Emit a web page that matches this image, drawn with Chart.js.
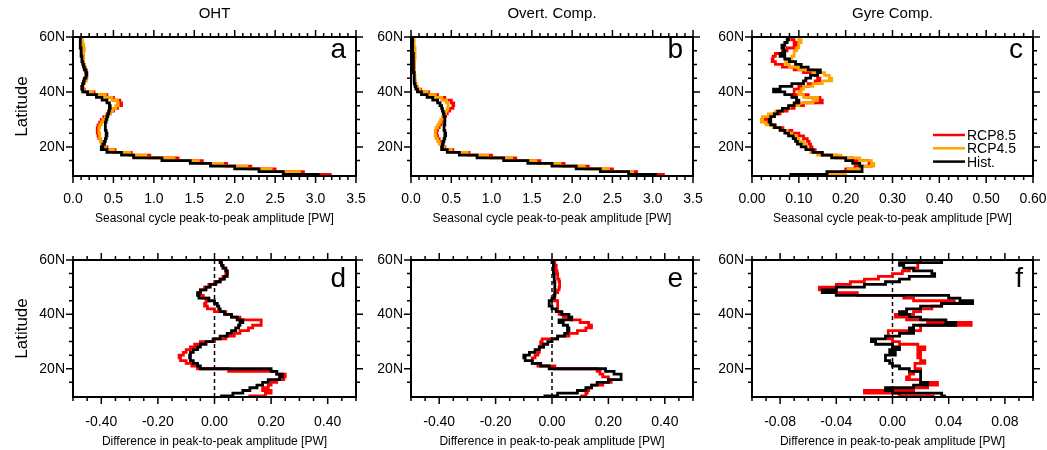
<!DOCTYPE html>
<html>
<head>
<meta charset="utf-8">
<script src="https://cdn.jsdelivr.net/npm/chart.js@4/dist/chart.umd.min.js"></script>
<style>
  body { margin: 0; background: #fff; width: 1047px; height: 450px; position: relative; overflow: hidden; }
  canvas { position: absolute; }
</style>
</head>
<body>
<canvas id="pa"></canvas><canvas id="pb"></canvas><canvas id="pc"></canvas>
<canvas id="pd"></canvas><canvas id="pe"></canvas><canvas id="pf"></canvas>
<script>
/* global Chart */
// latitude rows (deg N), bottom to top
const lats = [10, 11, 12, 13, 14, 15, 16, 17, 18, 19, 20, 21, 22, 23, 24, 25, 26, 27, 28, 29,
  30, 31, 32, 33, 34, 35, 36, 37, 38, 39, 40, 41, 42, 43, 44, 45, 46, 47, 48, 49,
  50, 51, 52, 53, 54, 55, 56, 57, 58, 59, 60];
const latTicks = [20, 40, 60];
const seriesNames = ["RCP8.5", "RCP4.5", "Hist."];
const columnTitles = ["OHT", "Overt. Comp.", "Gyre Comp."];

// a: OHT amplitude [PW]
const ohtRcp85 = [3.2, 2.85, 2.5, 2.2, 1.9, 1.6, 1.3, 0.95, 0.72, 0.52,
  0.42, 0.38, 0.36, 0.34, 0.32, 0.31, 0.30, 0.30, 0.31, 0.33,
  0.35, 0.38, 0.42, 0.46, 0.50, 0.55, 0.60, 0.58, 0.50, 0.42,
  0.26, 0.14, 0.11, 0.12, 0.14, 0.16, 0.17, 0.17, 0.16, 0.15,
  0.14, 0.13, 0.12, 0.12, 0.12, 0.12, 0.13, 0.13, 0.12, 0.11, 0.10];
const ohtRcp45 = [2.9, 2.8, 2.45, 2.15, 1.85, 1.55, 1.25, 0.9, 0.7, 0.5,
  0.40, 0.37, 0.35, 0.34, 0.33, 0.33, 0.32, 0.32, 0.33, 0.35,
  0.37, 0.40, 0.43, 0.46, 0.49, 0.53, 0.56, 0.55, 0.48, 0.40,
  0.24, 0.13, 0.11, 0.12, 0.14, 0.16, 0.17, 0.17, 0.16, 0.15,
  0.14, 0.13, 0.13, 0.13, 0.13, 0.13, 0.14, 0.13, 0.12, 0.11, 0.10];
const ohtHist = [3.05, 2.6, 2.3, 2.0, 1.7, 1.45, 1.1, 0.75, 0.6, 0.42,
  0.35, 0.37, 0.39, 0.40, 0.41, 0.42, 0.41, 0.40, 0.40, 0.40,
  0.41, 0.42, 0.43, 0.44, 0.45, 0.46, 0.45, 0.42, 0.36, 0.29,
  0.18, 0.12, 0.11, 0.12, 0.13, 0.14, 0.16, 0.17, 0.16, 0.14,
  0.13, 0.12, 0.11, 0.11, 0.10, 0.10, 0.10, 0.09, 0.09, 0.09, 0.09];

// b: overturning component
const ovRcp85 = [3.15, 2.8, 2.5, 2.2, 1.9, 1.6, 1.3, 1.0, 0.72, 0.52,
  0.42, 0.39, 0.37, 0.35, 0.33, 0.32, 0.32, 0.33, 0.35, 0.37,
  0.39, 0.41, 0.43, 0.45, 0.48, 0.52, 0.53, 0.50, 0.42, 0.33,
  0.22, 0.12, 0.08, 0.06, 0.05, 0.04, 0.04, 0.04, 0.04, 0.04,
  0.04, 0.04, 0.04, 0.04, 0.04, 0.04, 0.04, 0.03, 0.03, 0.03, 0.03];
const ovRcp45 = [2.95, 2.75, 2.45, 2.15, 1.85, 1.55, 1.25, 0.95, 0.7, 0.5,
  0.41, 0.38, 0.35, 0.33, 0.31, 0.30, 0.30, 0.31, 0.33, 0.35,
  0.37, 0.39, 0.41, 0.43, 0.45, 0.46, 0.46, 0.44, 0.38, 0.30,
  0.20, 0.11, 0.08, 0.06, 0.05, 0.05, 0.05, 0.04, 0.04, 0.04,
  0.04, 0.04, 0.04, 0.05, 0.05, 0.05, 0.05, 0.04, 0.04, 0.04, 0.03];
const ovHist = [3.05, 2.7, 2.35, 2.05, 1.75, 1.45, 1.15, 0.82, 0.6, 0.45,
  0.38, 0.39, 0.40, 0.41, 0.42, 0.43, 0.42, 0.41, 0.41, 0.42,
  0.42, 0.42, 0.41, 0.40, 0.39, 0.38, 0.36, 0.33, 0.27, 0.20,
  0.13, 0.08, 0.06, 0.05, 0.04, 0.04, 0.04, 0.04, 0.03, 0.03,
  0.03, 0.03, 0.03, 0.03, 0.03, 0.02, 0.02, 0.02, 0.02, 0.02, 0.02];

// c: gyre component
const gyRcp85 = [0.10, 0.19, 0.20, 0.22, 0.255, 0.25, 0.215, 0.18, 0.15, 0.135,
  0.128, 0.125, 0.122, 0.118, 0.11, 0.10, 0.085, 0.066, 0.05, 0.04,
  0.028, 0.035, 0.045, 0.06, 0.075, 0.09, 0.11, 0.15, 0.145, 0.12,
  0.09, 0.09, 0.10, 0.12, 0.135, 0.145, 0.14, 0.135, 0.11, 0.09,
  0.065, 0.05, 0.043, 0.045, 0.05, 0.065, 0.075, 0.09, 0.095, 0.09, 0.085];
const gyRcp45 = [0.12, 0.20, 0.205, 0.23, 0.26, 0.255, 0.23, 0.19, 0.14, 0.125,
  0.118, 0.115, 0.11, 0.10, 0.095, 0.085, 0.075, 0.06, 0.045, 0.03,
  0.02, 0.022, 0.035, 0.05, 0.065, 0.08, 0.10, 0.13, 0.14, 0.11,
  0.10, 0.105, 0.11, 0.13, 0.15, 0.17, 0.165, 0.155, 0.13, 0.10,
  0.08, 0.072, 0.075, 0.085, 0.09, 0.09, 0.095, 0.10, 0.10, 0.105, 0.10];
const gyHist = [0.08, 0.16, 0.235, 0.235, 0.23, 0.215, 0.20, 0.17, 0.15, 0.13,
  0.115, 0.105, 0.097, 0.093, 0.088, 0.078, 0.07, 0.06, 0.048, 0.04,
  0.037, 0.04, 0.048, 0.055, 0.065, 0.078, 0.09, 0.10, 0.095, 0.085,
  0.07, 0.046, 0.06, 0.085, 0.11, 0.115, 0.125, 0.14, 0.146, 0.12,
  0.105, 0.093, 0.08, 0.07, 0.06, 0.07, 0.068, 0.064, 0.07, 0.075, 0.078];

// d-f: difference in amplitude [PW]
const dOhtRcp85 = [0.12, 0.18, 0.20, 0.17, 0.19, 0.20, 0.22, 0.245, 0.25, 0.22,
  0.05, -0.06, -0.08, -0.10, -0.12, -0.125, -0.11, -0.10, -0.085, -0.07,
  -0.05, 0.0, 0.04, 0.07, 0.09, 0.12, 0.135, 0.165, 0.165, 0.09,
  0.06, 0.04, 0.0, -0.025, -0.035, -0.03, -0.02, -0.04, -0.055, -0.05,
  -0.035, -0.02, 0.0, 0.02, 0.03, 0.04, 0.045, 0.04, 0.03, 0.025, 0.02];
const dOhtHist = [0.02, 0.065, 0.10, 0.125, 0.15, 0.17, 0.19, 0.23, 0.24, 0.22,
  0.20, -0.05, -0.06, -0.075, -0.085, -0.088, -0.085, -0.075, -0.06, -0.05,
  -0.03, -0.005, 0.02, 0.045, 0.06, 0.075, 0.085, 0.09, 0.10, 0.08,
  0.06, 0.035, 0.02, 0.015, 0.01, 0.0, -0.02, -0.055, -0.06, -0.05,
  -0.03, -0.015, 0.005, 0.02, 0.035, 0.045, 0.045, 0.04, 0.03, 0.025, 0.02];
const dOvRcp85 = [0.10, 0.12, 0.125, 0.13, 0.14, 0.18, 0.21, 0.20, 0.18, 0.17,
  0.16, 0.01, -0.05, -0.07, -0.07, -0.06, -0.05, -0.045, -0.045, -0.03,
  -0.04, -0.035, 0.02, 0.06, 0.09, 0.12, 0.14, 0.13, 0.10, 0.07,
  0.04, 0.025, 0.02, 0.02, 0.02, 0.02, 0.01, 0.005, 0.01, 0.02,
  0.025, 0.027, 0.027, 0.025, 0.02, 0.02, 0.018, 0.015, 0.015, 0.01, 0.005];
const dOvHist = [-0.03, 0.02, 0.09, 0.12, 0.14, 0.16, 0.20, 0.245, 0.245, 0.22,
  0.19, -0.01, -0.04, -0.07, -0.095, -0.10, -0.08, -0.06, -0.045, -0.03,
  -0.015, 0.0, 0.02, 0.045, 0.055, 0.06, 0.055, 0.04, 0.025, 0.07,
  0.06, 0.035, 0.015, 0.0, -0.01, -0.01, 0.0, 0.008, 0.01, 0.01,
  0.01, 0.01, 0.01, 0.008, 0.008, 0.008, 0.005, 0.005, 0.005, 0.005, 0.0];
const dGyRcp85 = [0.03, 0.005, -0.02, 0.015, 0.025, 0.032, 0.02, 0.01, 0.012, 0.015,
  0.02, 0.016, 0.016, 0.023, 0.02, 0.018, 0.02, 0.018, 0.023, 0.018,
  0.005, 0.0, -0.003, -0.003, -0.003, 0.02, 0.02, 0.056, 0.025, 0.01,
  0.002, 0.015, 0.02, 0.028, 0.035, 0.044, 0.015, 0.008, -0.025, -0.04,
  -0.052, -0.04, -0.03, -0.02, -0.01, 0.0, 0.007, 0.012, 0.018, 0.018, 0.02];
const dGyHist = [0.038, 0.035, 0.0, -0.005, 0.015, 0.025, 0.02, 0.02, 0.02, 0.02,
  0.012, 0.005, 0.0, -0.002, -0.005, -0.005, 0.002, -0.002, 0.005, 0.0,
  -0.012, -0.015, -0.005, 0.005, 0.015, 0.012, 0.015, 0.045, 0.038, 0.02,
  0.012, 0.005, 0.01, 0.02, 0.035, 0.057, 0.048, 0.04, -0.04, -0.05,
  -0.04, -0.02, -0.005, 0.005, 0.012, 0.03, 0.028, 0.015, 0.008, 0.005, 0.035];

const RED = "#ff0000", ORANGE = "#ffa500", BLACK = "#000000";
const FONT = "Liberation Sans";
Chart.defaults.font.family = FONT;
Chart.defaults.color = "#000";

const onStep = (v, s) => Math.abs(v / s - Math.round(v / s)) < 1e-6;

// frame, outward ticks on all sides, and the texts around each panel
const panelDecor = {
  id: "panelDecor",
  afterDraw(chart, args, o) {
    const { ctx, chartArea: a, scales: { x, y } } = chart;
    ctx.save();
    ctx.strokeStyle = "#000";
    ctx.lineWidth = 1.5;
    ctx.beginPath();
    x.ticks.forEach((t) => {
      if (!onStep(t.value, o.xMinor)) return;
      const px = x.getPixelForValue(t.value);
      const len = onStep(t.value, o.xMajor) ? 7 : 4;
      ctx.moveTo(px, a.bottom); ctx.lineTo(px, a.bottom + len);
      ctx.moveTo(px, a.top); ctx.lineTo(px, a.top - len);
    });
    y.ticks.forEach((t) => {
      if (!onStep(t.value, 5)) return;
      const py = y.getPixelForValue(t.value);
      const len = latTicks.includes(t.value) ? 7 : 4;
      ctx.moveTo(a.left, py); ctx.lineTo(a.left - len, py);
      ctx.moveTo(a.right, py); ctx.lineTo(a.right + len, py);
    });
    ctx.stroke();
    ctx.lineWidth = 2;
    ctx.strokeRect(a.left, a.top, a.right - a.left, a.bottom - a.top);

    const cxm = (a.left + a.right) / 2;
    ctx.fillStyle = "#000";
    ctx.textBaseline = "alphabetic";
    if (o.title) {
      ctx.font = "15px " + FONT;
      ctx.textAlign = "center";
      ctx.fillText(o.title, cxm, 17.5);
    }
    ctx.font = "28px " + FONT;
    ctx.textAlign = "right";
    ctx.fillText(o.letter, a.right - 10, a.top + o.letterDy);

    ctx.font = "12px " + FONT;
    ctx.textAlign = "center";
    ctx.fillText(o.xTitle, cxm, o.xTitleY);

    if (o.yTitle) {
      ctx.save();
      ctx.translate(22, (a.top + a.bottom) / 2);
      ctx.rotate(-Math.PI / 2);
      ctx.font = "17px " + FONT;
      ctx.textBaseline = "middle";
      ctx.fillText("Latitude", 0, 0);
      ctx.restore();
    }

    if (o.legend) {
      const colors = [RED, ORANGE, BLACK];
      ctx.font = "14px " + FONT;
      ctx.textAlign = "left";
      ctx.lineWidth = 2.5;
      seriesNames.forEach((name, i) => {
        const ly = 135 + i * 13.3;
        ctx.strokeStyle = colors[i];
        ctx.beginPath();
        ctx.moveTo(a.right - 100, ly); ctx.lineTo(a.right - 68, ly);
        ctx.stroke();
        ctx.fillText(name, a.right - 66, ly + 5);
      });
    }
    ctx.restore();
  }
};

const TOP_X = "Seasonal cycle peak-to-peak amplitude [PW]";
const BOT_X = "Difference in peak-to-peak amplitude [PW]";

// cells overlap a little; canvases are transparent
const panels = [
  { id: "pa", cell: [0, 0, 380, 230], plot: [73, 37, 283, 139], yMin: 9.4, row: 0,
    xMin: 0, xMax: 3.5, xMinor: 0.1, xMajor: 0.5, dec: 1, letter: "a", title: columnTitles[0], yTitle: true,
    series: [[ohtHist, BLACK], [ohtRcp45, ORANGE], [ohtRcp85, RED]] },
  { id: "pb", cell: [360, 0, 360, 230], plot: [411, 37, 282, 139], yMin: 9.4, row: 0,
    xMin: 0, xMax: 3.5, xMinor: 0.1, xMajor: 0.5, dec: 1, letter: "b", title: columnTitles[1],
    series: [[ovHist, BLACK], [ovRcp45, ORANGE], [ovRcp85, RED]] },
  { id: "pc", cell: [700, 0, 347, 230], plot: [752, 37, 281, 139], yMin: 9.4, row: 0,
    xMin: 0, xMax: 0.6, xMinor: 0.02, xMajor: 0.1, dec: 2, letter: "c", title: columnTitles[2], legend: true,
    series: [[gyHist, BLACK], [gyRcp45, ORANGE], [gyRcp85, RED]] },
  { id: "pd", cell: [0, 230, 380, 220], plot: [73, 260, 283, 137], yMin: 9.6, row: 1,
    xMin: -0.5, xMax: 0.5, xMinor: 0.05, xMajor: 0.2, dec: 2, letter: "d", yTitle: true, zero: true,
    series: [[dOhtHist, BLACK], [dOhtRcp85, RED]] },
  { id: "pe", cell: [360, 230, 360, 220], plot: [411, 260, 282, 137], yMin: 9.6, row: 1,
    xMin: -0.5, xMax: 0.5, xMinor: 0.05, xMajor: 0.2, dec: 2, letter: "e", zero: true,
    series: [[dOvHist, BLACK], [dOvRcp85, RED]] },
  { id: "pf", cell: [700, 230, 347, 220], plot: [752, 260, 281, 137], yMin: 9.6, row: 1,
    xMin: -0.1, xMax: 0.1, xMinor: 0.01, xMajor: 0.04, dec: 2, letter: "f", zero: true,
    series: [[dGyHist, BLACK], [dGyRcp85, RED]] }
];

const YW = 45, XH = 36;

panels.forEach((p) => {
  const cv = document.getElementById(p.id);
  const [cx, cy, cw, ch] = p.cell;
  cv.width = cw; cv.height = ch;
  cv.style.left = cx + "px"; cv.style.top = cy + "px";
  const pl = p.plot[0] - cx, pt = p.plot[1] - cy, pw = p.plot[2], ph = p.plot[3];

  const datasets = p.series.map(([vals, color]) => ({
    data: lats.map((la, i) => ({ x: vals[i], y: la })),
    borderColor: color,
    borderWidth: 2.8,
    showLine: true,
    stepped: true,
    pointRadius: 0
  }));
  if (p.zero) {
    datasets.push({
      data: [{ x: 0, y: p.yMin }, { x: 0, y: 60 }],
      borderColor: BLACK, borderWidth: 1.5, borderDash: [4, 3],
      showLine: true, pointRadius: 0
    });
  }

  new Chart(cv, {
    type: "scatter",
    data: { datasets },
    options: {
      responsive: false,
      animation: false,
      events: [],
      layout: { padding: { left: pl - YW, top: pt, right: cw - pl - pw, bottom: ch - pt - ph - XH } },
      plugins: {
        legend: { display: false },
        tooltip: { enabled: false },
        panelDecor: {
          xMinor: p.xMinor, xMajor: p.xMajor, letter: p.letter, title: p.title,
          letterDy: p.row === 0 ? 21 : 27,
          xTitle: p.row === 0 ? TOP_X : BOT_X,
          xTitleY: p.row === 0 ? 222 : 215,
          yTitle: p.yTitle, legend: p.legend
        }
      },
      scales: {
        x: {
          type: "linear", position: "bottom", min: p.xMin, max: p.xMax,
          grid: { display: false, drawTicks: false }, border: { display: false },
          ticks: {
            stepSize: p.xMinor, autoSkip: false, maxRotation: 0, minRotation: 0,
            padding: p.row === 0 ? 14.6 : 17, font: { size: 14 }, color: "#000",
            callback: (v) => (onStep(v, p.xMajor) ? Number(v).toFixed(p.dec) : "")
          },
          afterFit: (s) => { s.height = XH; s.paddingLeft = 0; s.paddingRight = 0; }
        },
        y: {
          type: "linear", position: "left", min: p.yMin, max: 60,
          grid: { display: false, drawTicks: false }, border: { display: false },
          ticks: {
            stepSize: 5, autoSkip: false, padding: 8, font: { size: 14 }, color: "#000",
            callback: (v) => (latTicks.includes(v) ? v + "N" : "")
          },
          afterFit: (s) => { s.width = YW; s.paddingTop = 0; s.paddingBottom = 0; }
        }
      }
    },
    plugins: [panelDecor]
  });
});
</script>
</body>
</html>
